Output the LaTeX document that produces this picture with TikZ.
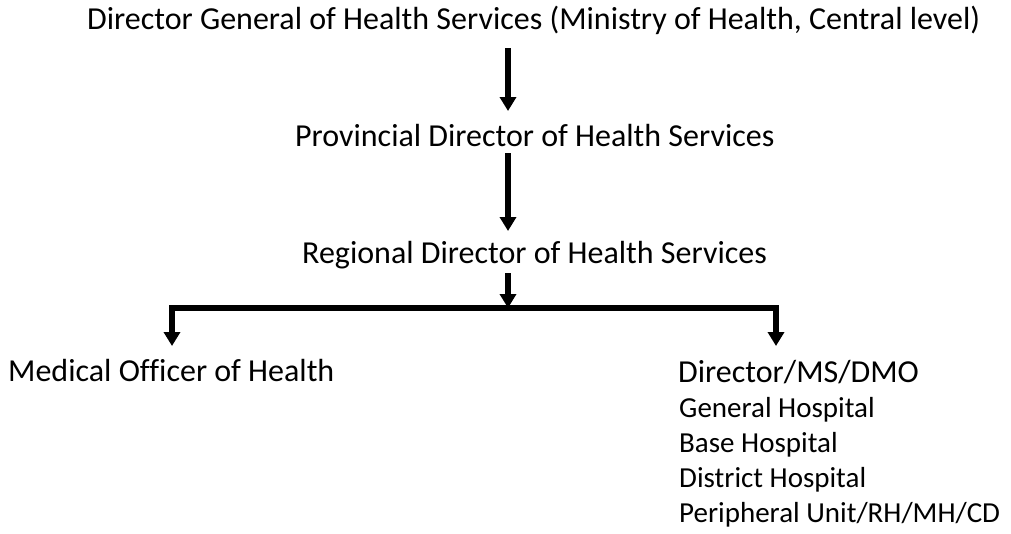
\documentclass[tikz,border=0pt]{standalone}
\usepackage{fontspec}
\setmainfont{Carlito}[Ligatures={NoCommon}]
\usetikzlibrary{arrows.meta}
\begin{document}
\begin{tikzpicture}[x=1pt,y=-1pt,
  lbl/.style={anchor=base west,inner sep=0pt,font=\fontsize{32}{38}\selectfont},
  sub/.style={anchor=base west,inner sep=0pt,font=\fontsize{29}{35}\selectfont},
  arr/.style={line width=5.5pt,-{Triangle[length=14pt,width=16pt]},line join=miter}]
\useasboundingbox (0,0) rectangle (1011,533);
\node[lbl] (dg) at (87,29) {Director General of Health Services (Ministry of Health, Central level)};
\node[lbl] (pd) at (295,146) {Provincial Director of Health Services};
\node[lbl] (rd) at (302,263) {Regional Director of Health Services};
\node[lbl] (moh) at (8,381) {Medical Officer of Health};
\node[lbl] (dir) at (678,382) {Director/MS/DMO};
\node[sub] (gh) at (679,417) {General Hospital};
\node[sub] (bh) at (679,452) {Base Hospital};
\node[sub] (dh) at (679,487) {District Hospital};
\node[sub] (pu) at (679,522) {Peripheral Unit/RH/MH/CD};
\coordinate (dgout) at (508,48);
\coordinate (pdin) at (508,111);
\coordinate (pdout) at (508,153);
\coordinate (rdin) at (508,231);
\coordinate (rdout) at (508,273);
\coordinate (split) at (508,308);
\coordinate (mohin) at (172,346);
\coordinate (dirin) at (776,346);
\draw[arr] (dgout) -- (pdin);
\draw[arr] (pdout) -- (rdin);
\draw[arr] (rdout) -- (split);
\draw[arr] (split) -| (mohin);
\draw[arr] (split) -| (dirin);
\end{tikzpicture}
\end{document}
